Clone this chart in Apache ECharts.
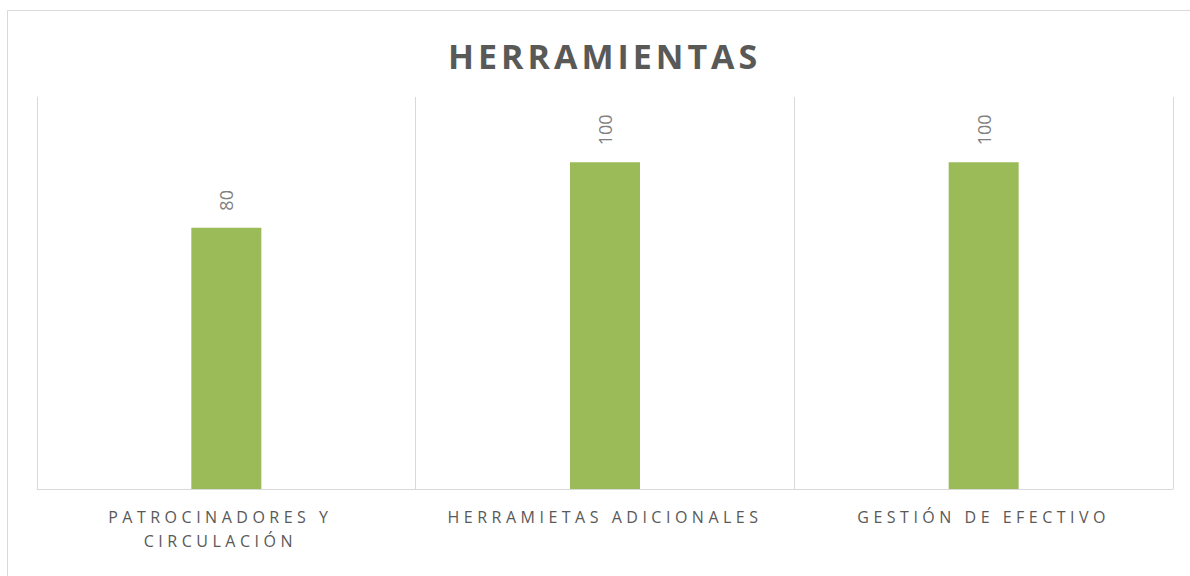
<!DOCTYPE html>
<html>
<head>
<meta charset="utf-8">
<script src="https://cdn.jsdelivr.net/npm/echarts@6/dist/echarts.min.js"></script>
<style>
  html, body { margin: 0; padding: 0; background: #fff; }
  #chart { width: 1190px; height: 576px; }
  /* letter spacing like the original: picked by fill colour */
  #chart text[fill="#595957"] { letter-spacing: 4px; }
  #chart text[fill="#595958"] { letter-spacing: 4.5px; }
</style>
</head>
<body>
<div id="chart"></div>
<script>
var titulo = 'HERRAMIENTAS';
var categorias = ['PATROCINADORES Y\nCIRCULACIÓN', 'HERRAMIETAS ADICIONALES', 'GESTIÓN DE EFECTIVO'];
var valores = [80, 100, 100];

var chart = echarts.init(document.getElementById('chart'), null, { renderer: 'svg' });

// first label sits a little to the left in the original
var ejeX = categorias.map(function (c, i) {
  if (i === 0) {
    return { value: c, textStyle: { padding: [0, 12, 0, 0] } };
  }
  return c;
});

var option = {
  animation: false,
  backgroundColor: '#fff',
  graphic: [{
    type: 'rect',
    shape: { x: 7.5, y: 10.5, width: 1200, height: 600 },
    style: { fill: 'none', stroke: '#d9d9d9', lineWidth: 1 },
    silent: true
  }],
  title: {
    text: titulo,
    left: 448,
    top: 39,
    padding: 0,
    textStyle: {
      fontFamily: 'Open Sans',
      fontWeight: 'bold',
      fontSize: 34,
      color: '#595957'
    }
  },
  grid: { left: 37, right: 17, top: 97, bottom: 87, containLabel: false },
  xAxis: {
    type: 'category',
    data: ejeX,
    axisLine: { show: true, lineStyle: { color: '#d9d9d9', width: 1 } },
    axisTick: { show: false },
    splitLine: { show: true, lineStyle: { color: '#d9d9d9', width: 1 } },
    axisLabel: {
      interval: 0,
      margin: 16,
      fontFamily: 'Open Sans',
      fontSize: 16,
      lineHeight: 24,
      color: '#595958'
    }
  },
  yAxis: {
    type: 'value',
    min: 0,
    max: 120,
    interval: 20,
    axisLine: { show: true, lineStyle: { color: '#d9d9d9', width: 1 } },
    axisTick: { show: false },
    axisLabel: { show: false },
    splitLine: { show: false }
  },
  series: [{
    type: 'bar',
    data: valores,
    barWidth: 70,
    itemStyle: { color: '#9bbb59' },
    label: {
      show: true,
      position: 'top',
      rotate: 90,
      align: 'left',
      verticalAlign: 'middle',
      distance: 17,
      fontFamily: 'Open Sans',
      fontSize: 18,
      color: '#7f7f7f'
    }
  }]
};

chart.setOption(option);
</script>
</body>
</html>
